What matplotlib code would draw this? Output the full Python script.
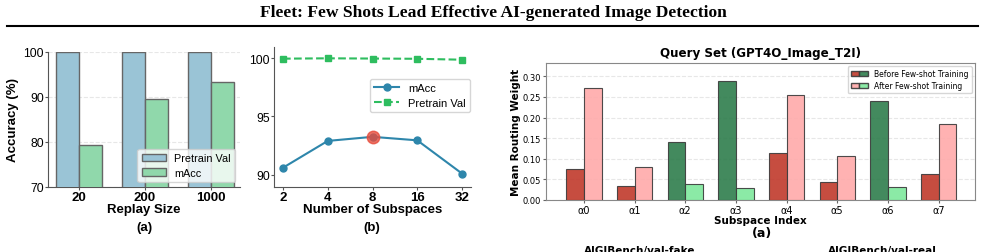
import numpy as np
import matplotlib
matplotlib.use("Agg")
import matplotlib.pyplot as plt
from matplotlib.lines import Line2D
from matplotlib.patches import Patch
from matplotlib.legend_handler import HandlerTuple

# (a) replay size
replay_sizes = ["20", "200", "1000"]
replay_pretrain = [100.0, 100.0, 100.0]
replay_macc = [79.3, 89.5, 93.3]

# (b) number of subspaces
subspaces = ["2", "4", "8", "16", "32"]
sub_macc = [90.6, 92.9, 93.25, 92.95, 90.1]
sub_pretrain = [99.95, 99.98, 99.96, 99.94, 99.86]

# routing weights, query set GPT4O_Image_T2I
alpha_labels = ["α0", "α1", "α2", "α3", "α4", "α5", "α6", "α7"]
before_ft = [0.074, 0.035, 0.140, 0.289, 0.113, 0.043, 0.240, 0.062]
after_ft = [0.272, 0.079, 0.038, 0.030, 0.255, 0.106, 0.032, 0.185]

W, H = 985, 253
SANS = "Liberation Sans"


def box(l, t, r, b):
    return [l / W, 1 - b / H, (r - l) / W, (b - t) / H]


def fy(py):
    return 1 - py / H


fig = plt.figure(figsize=(W / 100, H / 100), dpi=100)

# header
fig.text(493 / W, fy(13), "Fleet: Few Shots Lead Effective AI-generated Image Detection",
         family="Liberation Serif", weight="bold", size=12.6, ha="center", va="center")
fig.add_artist(Line2D([7 / W, 978 / W], [fy(26.5), fy(26.5)], lw=1.5, color="black"))

# ---- panel (a): replay size
ax1 = fig.add_axes(box(48, 53, 240, 188))
x = np.arange(len(replay_sizes))
w = 0.35
ax1.bar(x - w / 2, replay_pretrain, w, color="#9ac4d6", edgecolor="#666666", lw=1,
        label="Pretrain Val", zorder=3)
ax1.bar(x + w / 2, replay_macc, w, color="#90d8ab", edgecolor="#666666", lw=1,
        label="mAcc", zorder=3)
ax1.set_ylim(70, 100)
ax1.set_xlim(-0.47, 2.44)
ax1.set_yticks([70, 80, 90, 100])
ax1.set_xticks(x)
ax1.set_xticklabels(replay_sizes, fontweight="bold", family=SANS, size=9.5)
for t in ax1.get_yticklabels():
    t.set_family(SANS)
    t.set_fontsize(8.8)
ax1.set_ylabel("Accuracy (%)", family=SANS, weight="bold", size=9.5, labelpad=3)
ax1.set_xlabel("Replay Size", family=SANS, weight="bold", size=9.5, labelpad=0)
ax1.grid(axis="y", ls="--", alpha=0.3, zorder=0)
for s in ["top", "right"]:
    ax1.spines[s].set_visible(False)
for s in ["left", "bottom"]:
    ax1.spines[s].set_color("#555555")
ax1.tick_params(length=2, pad=1, color="#555555")
ax1.legend(loc="lower right", prop={"family": SANS, "size": 7.8}, borderaxespad=0.45,
           handlelength=2.2, borderpad=0.4, labelspacing=0.4)
fig.text(144 / W, fy(228), "(a)", family=SANS, weight="bold", size=9.5, ha="center", va="center")

# ---- panel (b): number of subspaces
ax2 = fig.add_axes(box(274, 48, 471, 188))
xs = np.arange(len(subspaces))
ax2.plot(xs, sub_macc, "-o", color="#2e86ab", lw=1.5, ms=5, label="mAcc", zorder=3)
ax2.plot(xs, sub_pretrain, "--s", color="#2ebd5f", lw=1.5, ms=4, label="Pretrain Val", zorder=3)
best = int(np.argmax(sub_macc))
ax2.plot(xs[best], sub_macc[best], "o", color="#e74c3c", ms=9, alpha=0.8,
         mec="#e74c3c", zorder=4)
ax2.set_xlim(-0.2, 4.2)
ax2.set_ylim(88.95, 100.95)
ax2.set_yticks([90, 95, 100])
ax2.set_xticks(xs)
ax2.set_xticklabels(subspaces, fontweight="bold", family=SANS, size=9.5)
for t in ax2.get_yticklabels():
    t.set_family(SANS)
    t.set_fontsize(8.8)
ax2.set_xlabel("Number of Subspaces", family=SANS, weight="bold", size=9.5, labelpad=0)
for s in ["top", "right"]:
    ax2.spines[s].set_visible(False)
for s in ["left", "bottom"]:
    ax2.spines[s].set_color("#555555")
ax2.tick_params(length=2, pad=1, color="#555555")
ax2.legend(loc="upper right", bbox_to_anchor=(1.0, 0.78), prop={"family": SANS, "size": 8},
           borderaxespad=0.1, handlelength=2.2, borderpad=0.4, labelspacing=0.4)
fig.text(372 / W, fy(228), "(b)", family=SANS, weight="bold", size=9.5, ha="center", va="center")

# ---- panel (a) right: routing weights
ax3 = fig.add_axes(box(546, 64, 975, 201))
xa = np.arange(len(alpha_labels))
c_before = ["#2e7d4c" if b > a else "#c0392b" for b, a in zip(before_ft, after_ft)]
c_after = ["#7ee89c" if b > a else "#ffaaaa" for b, a in zip(before_ft, after_ft)]
ax3.bar(xa - w / 2, before_ft, w, color=c_before, alpha=0.9, edgecolor="#3a3a3a", lw=0.8, zorder=3)
ax3.bar(xa + w / 2, after_ft, w, color=c_after, alpha=0.9, edgecolor="#3a3a3a", lw=0.8, zorder=3)
ax3.set_xlim(-0.75, 7.72)
ax3.set_ylim(0, max(before_ft + after_ft) * 1.15)
yt = np.arange(0, 0.31, 0.05)
ax3.set_yticks(yt)
ax3.set_yticklabels([f"{v:.2f}" for v in yt], size=6)
ax3.set_xticks(xa)
ax3.set_xticklabels(alpha_labels, size=7)
ax3.tick_params(length=2, pad=1.5, color="#666666")
ax3.grid(axis="y", ls="--", alpha=0.3, zorder=0)
for s in ax3.spines.values():
    s.set_color("#888888")
ax3.set_title("Query Set (GPT4O_Image_T2I)", weight="bold", size=8.6, pad=5)
ax3.set_xlabel("Subspace Index", weight="bold", size=7.5, labelpad=0)
ax3.set_ylabel("Mean Routing Weight", weight="bold", size=7.5, labelpad=1.5)
h_before = (Patch(fc="#c0392b", ec="#3a3a3a", alpha=0.9), Patch(fc="#2e7d4c", ec="#3a3a3a", alpha=0.9))
h_after = (Patch(fc="#ffaaaa", ec="#3a3a3a", alpha=0.9), Patch(fc="#7ee89c", ec="#3a3a3a", alpha=0.9))
ax3.legend([h_before, h_after], ["Before Few-shot Training", "After Few-shot Training"],
           handler_map={tuple: HandlerTuple(ndivide=None, pad=0)}, loc="upper right",
           fontsize=5.5, borderaxespad=0.4, handlelength=2.3, borderpad=0.4, labelspacing=0.4)
fig.text(762 / W, fy(234), "(a)", weight="bold", size=9, ha="center", va="center")

# labels of the next row, cut by the bottom edge as in the source
fig.text(640 / W, fy(246), "AIGIBench/val-fake", weight="bold", size=7.5, ha="center", va="top")
fig.text(882 / W, fy(246), "AIGIBench/val-real", weight="bold", size=7.5, ha="center", va="top")

fig.savefig("out.png", dpi=100)
